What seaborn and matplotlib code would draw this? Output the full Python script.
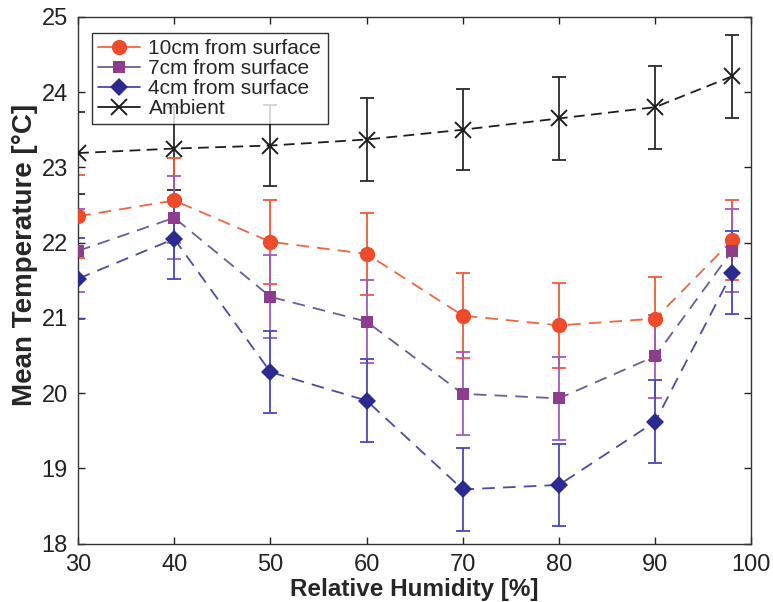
import numpy as np
import pandas as pd
import matplotlib
matplotlib.use("Agg")
import matplotlib.pyplot as plt
import seaborn as sns

# relative humidity steps
humidity = [30, 40, 50, 60, 70, 80, 90, 98]

# mean temperatures
temp_10cm = [22.35, 22.56, 22.01, 21.85, 21.03, 20.90, 20.99, 22.03]
temp_7cm = [21.89, 22.33, 21.28, 20.95, 19.99, 19.93, 20.49, 21.89]
temp_4cm = [21.52, 22.05, 20.28, 19.90, 18.72, 18.78, 19.62, 21.60]
temp_ambient = [23.19, 23.25, 23.29, 23.37, 23.50, 23.65, 23.80, 24.21]

# error bar half-widths
err_10cm = [0.55, 0.56, 0.56, 0.55, 0.56, 0.56, 0.55, 0.53]
err_7cm = [0.55, 0.55, 0.55, 0.55, 0.55, 0.55, 0.55, 0.55]
err_4cm = [0.54, 0.54, 0.55, 0.55, 0.55, 0.55, 0.55, 0.55]
err_ambient = [0.55, 0.55, 0.54, 0.55, 0.54, 0.55, 0.55, 0.55]

labels = ["Ambient", "10cm from surface", "7cm from surface", "4cm from surface"]

sns.set_style("ticks")
plt.rcParams['font.family'] = ['Liberation Sans', 'DejaVu Sans']

fig = plt.figure(figsize=(7.73, 6.02), dpi=100)
ax = fig.add_axes([0.101, 0.097, 0.871, 0.875])

# style per series: marker, marker colour, line colour, errorbar colour, size
styles = {
    "Ambient": dict(marker="x", mfc="#1e1e1e", line="#1e1e1e", ecol="#2a2a2a", ms=11, mew=1.4, dash=(6, 3.5)),
    "10cm from surface": dict(marker="o", mfc="#ef4a2c", line="#f2643f", ecol="#f25a38", ms=11, mew=0, dash=(7, 4.5)),
    "7cm from surface": dict(marker="s", mfc="#8e3d8e", line="#6f5a9a", ecol="#a05ac0", ms=8.5, mew=0, dash=(7, 4.5)),
    "4cm from surface": dict(marker="D", mfc="#2b2b8f", line="#4a4aaa", ecol="#4848c0", ms=9, mew=0, dash=(7, 4.5)),
}
values = {
    "Ambient": (temp_ambient, err_ambient),
    "10cm from surface": (temp_10cm, err_10cm),
    "7cm from surface": (temp_7cm, err_7cm),
    "4cm from surface": (temp_4cm, err_4cm),
}

handles = {}
for name in labels:
    y, e = values[name]
    st = styles[name]
    ax.errorbar(humidity, y, yerr=e, fmt="none", ecolor=st["ecol"],
                elinewidth=1.3, capsize=5, capthick=1.3, zorder=2)
    df = pd.DataFrame({"rh": humidity, "t": y})
    sns.lineplot(data=df, x="rh", y="t", ax=ax, color=st["line"], lw=1.3,
                 linestyle=(0, st["dash"]), marker=st["marker"], markersize=st["ms"],
                 markerfacecolor=st["mfc"], markeredgecolor=st["mfc"],
                 markeredgewidth=st["mew"], zorder=3)
    handles[name] = ax.lines[-1]

order = ["10cm from surface", "7cm from surface", "4cm from surface", "Ambient"]
leg = ax.legend([handles[n] for n in order], order, loc="upper left",
                bbox_to_anchor=(0.021, 0.97), fontsize=15, frameon=True,
                fancybox=False, edgecolor="black", handlelength=2.0,
                handletextpad=0.4, borderpad=0.3, labelspacing=0.05,
                borderaxespad=0)
leg.get_frame().set_linewidth(1.0)
for lh in leg.get_lines():
    lh.set_linestyle("-")

ax.set_xlim(30, 100)
ax.set_ylim(18, 25)
ax.set_xticks([30, 40, 50, 60, 70, 80, 90, 100])
ax.set_yticks([18, 19, 20, 21, 22, 23, 24, 25])
ax.tick_params(direction="in", length=5, width=1, labelsize=17, top=True, right=True,
               colors="#222222", pad=7.5)
for s in ax.spines.values():
    s.set_visible(True)
    s.set_linewidth(1.0)
    s.set_color("#333333")
ax.set_xlabel("Relative Humidity [%]", fontsize=17.5, fontweight="bold")
ax.set_ylabel("Mean Temperature [\u00b0C]", fontsize=20, fontweight="bold")
ax.xaxis.set_label_coords(0.5, -0.065)
ax.yaxis.set_label_coords(-0.06, 0.548)
ax.xaxis.label.set_va("top")
ax.yaxis.label.set_va("bottom")

fig.savefig("out.png", dpi=100)
